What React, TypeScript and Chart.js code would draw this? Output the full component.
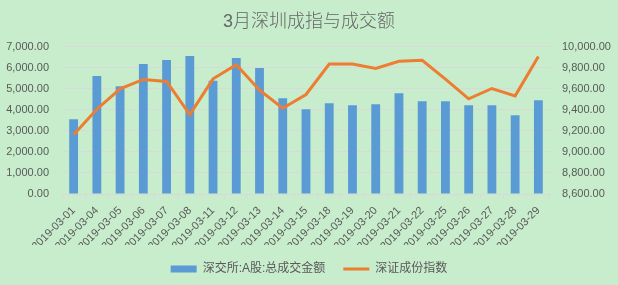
import React, { useEffect, useRef } from "react";
import { Chart, registerables } from "chart.js";

Chart.register(...registerables);

const categories = [
  "2019-03-01", "2019-03-04", "2019-03-05", "2019-03-06", "2019-03-07",
  "2019-03-08", "2019-03-11", "2019-03-12", "2019-03-13", "2019-03-14",
  "2019-03-15", "2019-03-18", "2019-03-19", "2019-03-20", "2019-03-21",
  "2019-03-22", "2019-03-25", "2019-03-26", "2019-03-27", "2019-03-28",
  "2019-03-29",
];

const turnover = [
  3550, 5600, 5120, 6170, 6360, 6550, 5380, 6460, 5980, 4550,
  4020, 4310, 4220, 4260, 4790, 4410, 4410, 4220, 4220, 3740, 4450,
];

const indexValues = [
  9163, 9405, 9599, 9688, 9669, 9354, 9694, 9828, 9586, 9415,
  9545, 9834, 9834, 9793, 9860, 9870, 9691, 9504, 9602, 9532, 9905,
];

const titleText = "3月深圳成指与成交额";
const barLabel = "深交所:A股:总成交金额";
const lineLabel = "深证成份指数";

const BG = "#C7EDCC";
const TEXT = "#595959";
const GRID = "#D9D9D9";
const FONT = "'Liberation Sans', 'Noto Sans CJK SC', sans-serif";

const fmt = (v: number) =>
  v.toLocaleString("en-US", { minimumFractionDigits: 2, maximumFractionDigits: 2 });

export default function App() {
  const ref = useRef<HTMLCanvasElement | null>(null);

  useEffect(() => {
    document.body.style.margin = "0";
    document.body.style.background = BG;
    const canvas = ref.current;
    if (!canvas) return;
    const chart = new Chart(canvas, {
      data: {
        labels: categories,
        datasets: [
          {
            type: "line",
            label: lineLabel,
            data: indexValues,
            yAxisID: "y1",
            borderColor: "#ED7D31",
            backgroundColor: "#ED7D31",
            borderWidth: 3,
            pointRadius: 0,
            pointStyle: "line",
            tension: 0,
            order: 0,
          },
          {
            type: "bar",
            label: barLabel,
            data: turnover,
            yAxisID: "y",
            backgroundColor: "#5B9BD5",
            borderWidth: 0,
            barPercentage: 0.38,
            categoryPercentage: 1,
            pointStyle: "rect",
            order: 1,
          },
        ],
      },
      options: {
        responsive: false,
        animation: false,
        layout: { padding: { top: 0, bottom: 0, left: 0, right: 0 } },
        plugins: {
          title: {
            display: true,
            text: titleText,
            color: "#666666",
            font: { family: FONT, size: 18, weight: "300" },
            padding: { top: 11, bottom: 14 },
          },
          legend: {
            position: "bottom",
            reverse: true,
            labels: {
              usePointStyle: true,
              pointStyleWidth: 26,
              boxHeight: 7,
              color: TEXT,
              font: { family: FONT, size: 12 },
              padding: 18,
            },
          },
          tooltip: { enabled: false },
        },
        scales: {
          x: {
            offset: true,
            grid: {
              display: true,
              drawOnChartArea: false,
              drawTicks: true,
              tickLength: 5,
              color: GRID,
              offset: true,
            },
            border: { color: GRID },
            ticks: {
              color: TEXT,
              font: { family: FONT, size: 11 },
              maxRotation: 45,
              minRotation: 45,
              autoSkip: false,
              padding: 5,
            },
            afterFit: (s: any) => {
              s.height = 51;
            },
          },
          y: {
            position: "left",
            min: 0,
            max: 7000,
            grid: { color: GRID, drawTicks: false },
            border: { display: false },
            ticks: {
              stepSize: 1000,
              color: TEXT,
              font: { family: FONT, size: 11 },
              padding: 13,
              callback: (v: any) => fmt(Number(v)),
            },
            afterFit: (s: any) => {
              s.width = 62;
            },
          },
          y1: {
            position: "right",
            min: 8600,
            max: 10000,
            grid: { display: false, drawTicks: false },
            border: { display: false },
            ticks: {
              stepSize: 200,
              color: TEXT,
              font: { family: FONT, size: 11 },
              padding: 12,
              callback: (v: any) => fmt(Number(v)),
            },
            afterFit: (s: any) => {
              s.width = 68;
            },
          },
        },
      },
    } as any);
    return () => chart.destroy();
  }, []);

  return (
    <div style={{ width: 618, height: 285, background: BG }}>
      <canvas ref={ref} width={618} height={285} />
    </div>
  );
}
